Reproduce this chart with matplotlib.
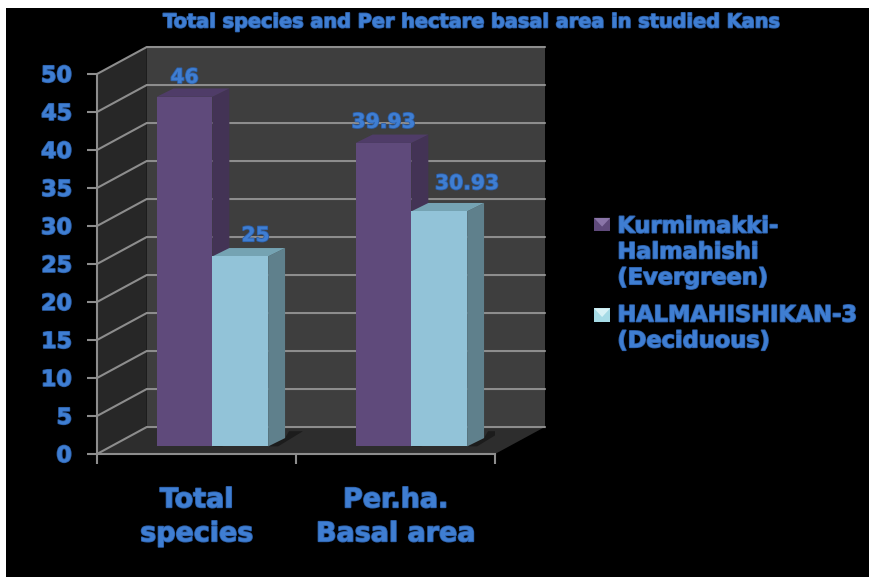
import matplotlib
matplotlib.use("Agg")
import matplotlib.pyplot as plt
import matplotlib.patheffects as pe
from matplotlib.legend_handler import HandlerPatch
from matplotlib.patches import Patch, Polygon

categorias = ["Total\nspecies", "Per.ha.\nBasal area"]
evergreen = [46, 39.93]
deciduous = [25, 30.93]
rotulos_evergreen = ["46", "39.93"]
rotulos_deciduous = ["25", "30.93"]
nomes_series = ["Kurmimakki-\nHalmahishi\n(Evergreen)", "HALMAHISHIKAN-3\n(Deciduous)"]
marcas_y = list(range(0, 55, 5))

AZUL = "#3f7ed2"
AZUL_BORDA = "#2c5fa8"
LINHA = "#8d8d8d"

# profundidade da caixa 3D, em unidades dos eixos
PROF_X = 0.25
PROF_Y = 3.55
# posicao e profundidade das barras dentro da caixa
BARRA_X = 0.08
BARRA_Y = 1.0
BARRA_DX = 0.085
BARRA_DY = 1.1
LARGURA = 0.28


def contorno():
    return [pe.withStroke(linewidth=1.2, foreground=AZUL_BORDA)]


def caixa(ax):
    # parede do fundo, parede lateral e chao
    ax.add_patch(Polygon([(PROF_X, PROF_Y), (2 + PROF_X, PROF_Y), (2 + PROF_X, 50 + PROF_Y), (PROF_X, 50 + PROF_Y)],
                         fc="#3e3e3e", ec="none", clip_on=False, zorder=1))
    ax.add_patch(Polygon([(0, 0), (PROF_X, PROF_Y), (PROF_X, 50 + PROF_Y), (0, 50)],
                         fc="#272727", ec="none", clip_on=False, zorder=1))
    ax.add_patch(Polygon([(0, 0), (2, 0), (2 + PROF_X, PROF_Y), (PROF_X, PROF_Y)],
                         fc="#2d2d2d", ec="none", clip_on=False, zorder=1))
    for v in marcas_y:
        ax.plot([0, PROF_X, 2 + PROF_X], [v, v + PROF_Y, v + PROF_Y], color=LINHA, lw=1.5,
                clip_on=False, zorder=2, solid_joinstyle="miter")


def barra(ax, x, valor, frente, lado, topo, z):
    x0 = x + BARRA_X
    x1 = x0 + LARGURA
    y0 = BARRA_Y
    y1 = y0 + valor
    # sombra da barra no chao
    ax.add_patch(Polygon([(x1, y0), (x1 + BARRA_DX, y0 + BARRA_DY), (x1 + BARRA_DX + 0.02, y0 + BARRA_DY + 0.9),
                          (x1 + BARRA_DX + 0.09, y0 + BARRA_DY + 0.9), (x1 + 0.05, y0)],
                         fc="#1c1c1c", ec="none", zorder=z))
    ax.add_patch(Polygon([(x1, y0), (x1 + BARRA_DX, y0 + BARRA_DY), (x1 + BARRA_DX, y1 + BARRA_DY), (x1, y1)],
                         fc=lado, ec="none", zorder=z))
    ax.add_patch(Polygon([(x0, y1), (x1, y1), (x1 + BARRA_DX, y1 + BARRA_DY), (x0 + BARRA_DX, y1 + BARRA_DY)],
                         fc=topo, ec="none", zorder=z))
    ax.bar(x0, valor, width=LARGURA, bottom=y0, align="edge", color=frente, zorder=z)


class QuadradoChanfrado(HandlerPatch):
    # amostra da legenda com o chanfro claro em cima, alinhada com a primeira linha do texto
    def __init__(self, claro, subir):
        super().__init__()
        self.claro = claro
        self.subir = subir

    def create_artists(self, legend, orig_handle, xdescent, ydescent, width, height, fontsize, trans):
        s = self.subir
        base = Polygon([(0, s), (width, s), (width, s + height), (0, s + height)], fc=orig_handle.get_facecolor(),
                       ec="none", transform=trans)
        chanfro = Polygon([(0, s + height), (width, s + height), (width / 2, s + height * 0.35)], fc=self.claro,
                          ec="none", transform=trans)
        return [base, chanfro]


def main():
    fig = plt.figure(figsize=(8.69, 5.77), dpi=100, facecolor="white")
    W, H = 869, 577

    fundo = fig.add_axes([6 / W, 0, (W - 6) / W, (H - 8) / H])
    fundo.set_facecolor("black")
    fundo.set_xticks([])
    fundo.set_yticks([])
    for s in fundo.spines.values():
        s.set_visible(False)

    # eixos no plano da frente da caixa
    ax = fig.add_axes([97 / W, (H - 454) / H, 398 / W, 380 / H])
    ax.set_xlim(0, 2)
    ax.set_ylim(0, 50)
    ax.patch.set_visible(False)
    for s in ["top", "right"]:
        ax.spines[s].set_visible(False)
    for s in ["left", "bottom"]:
        ax.spines[s].set_color(LINHA)
        ax.spines[s].set_linewidth(1.5)
        ax.spines[s].set_zorder(6)

    caixa(ax)
    for i in range(2):
        barra(ax, i + 0.5 - LARGURA, evergreen[i], "#5f4a7b", "#433355", "#4f3c68", 3)
        barra(ax, i + 0.5, deciduous[i], "#92c3d8", "#5f808c", "#75a3b3", 4)

    ax.set_yticks(marcas_y)
    ax.set_xticks([0, 1, 2])
    ax.set_xticklabels([])
    ax.tick_params(axis="both", color=LINHA, width=1.5, length=7)
    ax.tick_params(axis="y", labelsize=16, labelcolor=AZUL, pad=11)
    for t in ax.get_yticklabels():
        t.set_fontweight("bold")
        t.set_path_effects(contorno())

    # rotulos das categorias, duas linhas centradas em cada grupo
    for i, nome in enumerate(categorias):
        ax.annotate(nome, (i + 0.5, 0), xytext=(0, -24), textcoords="offset points", ha="center", va="top",
                    fontsize=19.4, fontweight="bold", color=AZUL, linespacing=1.4, annotation_clip=False,
                    path_effects=contorno())

    # valores em cima das barras; os deslocamentos (em pontos) afastam o texto da barra vizinha
    desloc_evergreen = [(0, 1), (0, 2)]
    desloc_deciduous = [(11, 2), (20, 7)]
    for i in range(2):
        ax.annotate(rotulos_evergreen[i], (i + 0.5 - LARGURA / 2 + BARRA_X, evergreen[i] + BARRA_Y + BARRA_DY),
                    xytext=desloc_evergreen[i], textcoords="offset points", ha="center", va="bottom", fontsize=14.6,
                    fontweight="bold", color=AZUL, path_effects=contorno(), zorder=8)
        ax.annotate(rotulos_deciduous[i], (i + 0.5 + LARGURA / 2 + BARRA_X, deciduous[i] + BARRA_Y + BARRA_DY),
                    xytext=desloc_deciduous[i], textcoords="offset points", ha="center", va="bottom", fontsize=14.6,
                    fontweight="bold", color=AZUL, path_effects=contorno(), zorder=8)

    fig.text(472 / W, (H - 22) / H, "Total species and Per hectare basal area in studied Kans", ha="center",
             va="center", fontsize=13.9, fontweight="bold", color=AZUL, path_effects=contorno())

    alcas = [Patch(facecolor="#5f4a7b"), Patch(facecolor="#a6dbe6")]
    leg = fig.legend(alcas, nomes_series, loc="center left", bbox_to_anchor=(594 / W, (H - 284) / H), frameon=False,
                     fontsize=16.2, labelcolor=AZUL, handlelength=0.72, handleheight=0.54, handletextpad=0.32,
                     labelspacing=0.77, borderpad=0, borderaxespad=0,
                     handler_map={alcas[0]: QuadradoChanfrado("#8a75a8", 21),
                                  alcas[1]: QuadradoChanfrado("#d8f2f6", 10.6)})
    for t in leg.get_texts():
        t.set_fontweight("bold")
        t.set_linespacing(1.36)
        t.set_path_effects(contorno())

    fig.savefig("out.png", dpi=100, facecolor="white")


if __name__ == "__main__":
    main()
